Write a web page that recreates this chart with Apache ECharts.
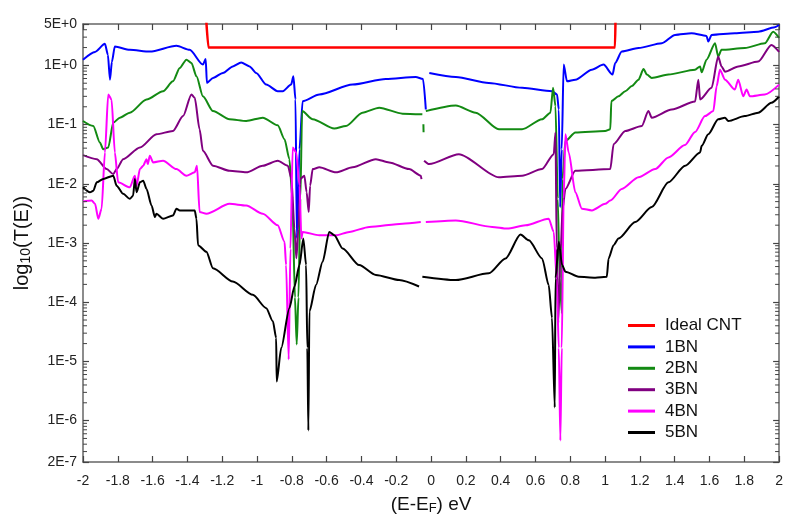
<!DOCTYPE html>
<html>
<head>
<meta charset="utf-8">
<script src="https://cdn.jsdelivr.net/npm/echarts@6/dist/echarts.min.js"></script>
<style>html,body{margin:0;padding:0;background:#fff}#chart{width:786px;height:520px}</style>
</head>
<body>
<div id="chart"></div>
<script>
// x tick labels (eV) and y tick labels
const xTicks = [-2,-1.8,-1.6,-1.4,-1.2,-1,-0.8,-0.6,-0.4,-0.2,0,0.2,0.4,0.6,0.8,1,1.2,1.4,1.6,1.8,2];
const yTickLabels = ['2E-7','1E-6','1E-5','1E-4','1E-3','1E-2','1E-1','1E+0','5E+0'];
const seriesNames = ['Ideal CNT','1BN','2BN','3BN','4BN','5BN'];

// [E - EF (eV), T(E)]
const idealCNT = [[-1.292,6],[-1.279,2],[1.057,2],[1.060,6]];

const bn1 = [[-2.0,1.25],[-1.931,1.69],[-1.874,2.31],[-1.857,1.51],[-1.845,0.574],[-1.834,1.15],[-1.817,2.08],[-1.731,1.83],[-1.616,1.71],[-1.463,2.14],[-1.387,1.83],[-1.311,1.03],[-1.295,1.28],[-1.288,0.506],[-1.253,0.614],[-1.196,0.745],[-1.139,0.961],[-1.091,1.12],[-1.043,0.961],[-1.005,0.745],[-0.947,0.474],[-0.881,0.366],[-0.852,0.366],[-0.804,0.474],[-0.791,0.653],[-0.779,0.265],[-0.771,1.2e-3],[-0.756,0.0385],[-0.738,0.248],[-0.642,0.322],[-0.451,0.474],[-0.260,0.590],[-0.088,0.638],[-0.046,0.590],[-0.030,0.18],[-0.020,null],[-0.010,0.745],[0.142,0.638],[0.332,0.506],[0.523,0.417],[0.695,0.366],[0.724,0.322],[0.734,0.18],[0.742,4e-3],[0.751,0.0385],[0.762,1.03],[0.781,0.538],[0.829,0.574],[0.924,0.846],[0.991,1.03],[1.043,0.70],[1.058,1.10],[1.096,1.71],[1.192,1.96],[1.326,2.37],[1.402,3.27],[1.497,3.49],[1.583,3.15],[1.593,2.52],[1.612,3.27],[1.746,3.49],[1.880,3.71],[1.975,4.40],[2.0,4.8]];

const bn2 = [[-2.0,0.115],[-1.941,0.0946],[-1.903,0.0498],[-1.884,0.0385],[-1.855,0.041],[-1.826,0.108],[-1.788,0.131],[-1.731,0.159],[-1.635,0.265],[-1.540,0.366],[-1.483,0.538],[-1.444,0.903],[-1.406,1.25],[-1.377,1.10],[-1.348,0.653],[-1.311,0.301],[-1.253,0.169],[-1.158,0.123],[-1.062,0.115],[-0.967,0.131],[-0.881,0.0972],[-0.842,0.0566],[-0.814,0.0261],[-0.797,5.6e-3],[-0.782,1.2e-4],[-0.772,1.93e-5],[-0.762,1.2e-4],[-0.751,5.6e-3],[-0.741,0.169],[-0.680,0.123],[-0.556,0.0855],[-0.489,0.0946],[-0.394,0.159],[-0.298,0.193],[-0.164,0.153],[-0.050,0.149],[-0.047,null],[-0.044,0.101],[-0.043,0.0741],[-0.036,null],[-0.030,0.169],[0.142,0.210],[0.256,0.159],[0.390,0.0832],[0.523,0.0832],[0.638,0.123],[0.686,0.159],[0.701,0.417],[0.715,0.205],[0.728,5.6e-3],[0.739,2.53e-4],[0.752,6.5e-5],[0.755,0.012],[0.772,0.053],[0.829,0.0733],[1.001,0.078],[1.030,0.0832],[1.036,0.25],[1.077,0.301],[1.116,0.366],[1.154,0.45],[1.192,0.574],[1.221,0.869],[1.240,0.70],[1.268,0.614],[1.364,0.70],[1.517,0.846],[1.546,0.961],[1.555,0.762],[1.583,1.25],[1.632,2.37],[1.650,1.41],[1.669,1.83],[1.803,1.96],[1.918,2.37],[1.966,3.71],[2.0,2.91]];

const bn3 = [[-2.0,0.0305],[-1.921,0.0261],[-1.864,0.0177],[-1.826,0.0146],[-1.807,0.0177],[-1.769,0.0261],[-1.673,0.041],[-1.578,0.0686],[-1.483,0.078],[-1.425,0.139],[-1.377,0.322],[-1.358,0.283],[-1.330,0.0832],[-1.311,0.036],[-1.253,0.0202],[-1.158,0.0166],[-1.062,0.0156],[-0.967,0.0202],[-0.881,0.0245],[-0.823,0.0202],[-0.802,0.0121],[-0.785,1.75e-3],[-0.774,5.5e-4],[-0.762,1.75e-3],[-0.751,0.0121],[-0.728,0.0137],[-0.715,7.2e-3],[-0.703,3.33e-3],[-0.695,9.3e-3],[-0.680,0.0177],[-0.642,0.019],[-0.546,0.0156],[-0.451,0.019],[-0.317,0.0261],[-0.241,0.023],[-0.126,0.0177],[-0.059,0.0137],[-0.055,0.012],[-0.050,null],[-0.040,0.0245],[-0.011,0.0215],[0.160,0.0317],[0.390,0.0129],[0.523,0.0137],[0.638,0.0177],[0.705,0.0317],[0.715,0.0733],[0.722,8.07e-4],[0.731,4.5e-5],[0.745,8e-4],[0.756,3.8e-3],[0.772,8.2e-3],[0.829,0.0166],[1.030,0.0177],[1.049,0.0467],[1.116,0.078],[1.211,0.0946],[1.249,0.169],[1.268,0.131],[1.383,0.18],[1.517,0.245],[1.536,0.574],[1.546,0.265],[1.612,0.417],[1.650,1.41],[1.669,0.961],[1.689,0.783],[1.765,0.961],[1.880,1.16],[1.956,2.22],[2.0,1.69]];

const bn4 = [[-2.0,5.02e-3],[-1.950,5.2e-3],[-1.931,4.59e-3],[-1.912,2.57e-3],[-1.893,3.79e-3],[-1.874,0.0339],[-1.855,0.322],[-1.836,0.265],[-1.817,0.0339],[-1.798,0.0106],[-1.731,8.75e-3],[-1.702,0.0137],[-1.692,9.3e-3],[-1.673,0.0177],[-1.654,0.0202],[-1.635,0.0261],[-1.628,0.0215],[-1.616,0.0297],[-1.597,0.023],[-1.540,0.0245],[-1.463,0.0177],[-1.406,0.0137],[-1.358,0.0156],[-1.345,0.0202],[-1.330,3.33e-3],[-1.291,3.12e-3],[-1.158,4.59e-3],[-1.062,4.3e-3],[-0.967,3.12e-3],[-0.881,1.99e-3],[-0.842,1.05e-3],[-0.833,4.24e-4],[-0.818,1.08e-5],[-0.808,8e-4],[-0.795,0.041],[-0.775,0.0339],[-0.756,9.3e-3],[-0.745,1.19e-3],[-0.738,1.54e-3],[-0.642,1.35e-3],[-0.546,1.35e-3],[-0.470,1.54e-3],[-0.355,1.87e-3],[-0.164,2.12e-3],[-0.059,2.26e-3],[-0.045,null],[-0.030,2.26e-3],[0.142,2.41e-3],[0.351,1.87e-3],[0.437,1.75e-3],[0.543,1.99e-3],[0.676,2.57e-3],[0.705,1.54e-3],[0.722,2.53e-4],[0.734,1.69e-5],[0.743,4.6e-7],[0.751,1.69e-5],[0.762,5.6e-3],[0.772,0.0686],[0.791,0.0339],[0.829,7.2e-3],[0.867,3.79e-3],[0.924,3.55e-3],[1.001,4.59e-3],[1.030,5.2e-3],[1.096,8.2e-3],[1.192,0.0129],[1.288,0.0177],[1.364,0.0279],[1.459,0.045],[1.517,0.075],[1.574,0.139],[1.622,0.169],[1.641,0.443],[1.660,0.846],[1.689,0.574],[1.746,0.391],[1.765,0.574],[1.794,0.301],[1.813,0.391],[1.832,0.301],[1.918,0.322],[2.0,0.473]];

const bn5 = [[-2.0,8.75e-3],[-1.960,7.2e-3],[-1.941,7.6e-3],[-1.921,0.0106],[-1.884,0.0121],[-1.826,0.0137],[-1.807,9.3e-3],[-1.769,6.76e-3],[-1.731,5.57e-3],[-1.712,6.3e-3],[-1.702,0.0121],[-1.692,7.2e-3],[-1.673,0.0106],[-1.654,0.0113],[-1.635,8.2e-3],[-1.606,4.3e-3],[-1.587,2.75e-3],[-1.578,3.12e-3],[-1.540,2.57e-3],[-1.483,2.92e-3],[-1.463,3.79e-3],[-1.444,3.55e-3],[-1.358,3.55e-3],[-1.348,2.57e-3],[-1.339,9.2e-4],[-1.291,7.1e-4],[-1.253,3.73e-4],[-1.139,2.23e-4],[-1.024,1.33e-4],[-0.947,7.94e-5],[-0.909,4.75e-5],[-0.890,2.49e-5],[-0.887,4.56e-6],[-0.861,1.69e-5],[-0.814,7.94e-5],[-0.785,1.84e-4],[-0.756,4.24e-4],[-0.734,1.19e-3],[-0.718,4.24e-4],[-0.711,1.69e-5],[-0.705,6.8e-7],[-0.699,7.0e-5],[-0.661,1.95e-4],[-0.623,4.83e-4],[-0.585,1.54e-3],[-0.556,1.35e-3],[-0.508,8.07e-4],[-0.413,4.24e-4],[-0.317,2.88e-4],[-0.183,2.37e-4],[-0.069,1.84e-4],[-0.060,null],[-0.050,2.7e-4],[0.142,2.37e-4],[0.332,3.07e-4],[0.428,5.48e-4],[0.514,1.39e-3],[0.562,1.11e-3],[0.638,5.48e-4],[0.676,1.95e-4],[0.695,5.4e-5],[0.711,1.67e-6],[0.715,2.53e-4],[0.734,1.05e-3],[0.753,4.24e-4],[0.772,3.28e-4],[0.848,2.7e-4],[0.944,2.6e-4],[1.010,2.7e-4],[1.020,5.48e-4],[1.049,9.2e-4],[1.077,1.19e-3],[1.173,2.26e-3],[1.268,4.04e-3],[1.364,0.0106],[1.460,0.0202],[1.546,0.0339],[1.555,0.0437],[1.593,0.0686],[1.650,0.123],[1.689,0.131],[1.708,0.115],[1.803,0.139],[1.880,0.159],[1.956,0.233],[2.0,0.298]];

// minor tick mantissas on the log axis
const minorMantissas = [2,3,4,5,6,7,8,9];
const decades = [-7,-6,-5,-4,-3,-2,-1,0];

const seriesData = [idealCNT, bn1, bn2, bn3, bn4, bn5];
const seriesColors = ['#ff0000','#0000ff','#138a13','#800080','#ff00ff','#000000'];
const Y_MIN = 2e-7, Y_MAX = 5;

function toData(arr){ return arr.map(p => [p[0], p[1] === null ? '-' : p[1]]); }
function fmtY(v){
  const lg = Math.round(Math.log10(v)*1e6)/1e6;
  const e = Math.floor(lg);
  const m = Math.round(v/Math.pow(10,e));
  return m + 'E' + (e >= 0 ? '+' : '') + e;
}
const minorVals = [];
decades.forEach(d => minorMantissas.forEach(m => {
  const v = m * Math.pow(10, d);
  if (v > Y_MIN * 1.001 && v < Y_MAX * 0.999) minorVals.push(v);
}));

const FONT = '"Liberation Sans", Arial, sans-serif';
const axisColor = '#666';

const chart = echarts.init(document.getElementById('chart'), null, {renderer:'canvas'});
const xBase = {
  type:'value', min:-2, max:2, interval:0.2,
  axisLine:{show:true, onZero:false, lineStyle:{color:axisColor, width:1.5}},
  axisTick:{show:true, inside:true, length:6, lineStyle:{color:'#444', width:1.2}},
  splitLine:{show:false}
};
const yBase = {
  type:'log', logBase:10, min:Y_MIN, max:Y_MAX,
  axisLine:{show:true, onZero:false, lineStyle:{color:axisColor, width:1.5}},
  axisTick:{show:true, inside:true, length:6, lineStyle:{color:'#444', width:1.2}},
  splitLine:{show:false}
};
const lineSeries = seriesNames.map((n,i) => ({
  name:n, type:'line', data:toData(seriesData[i]),
  showSymbol:false, symbol:'none', connectNulls:false, clip:true,
  smooth:0.25, smoothMonotone:'x',
  lineStyle:{width: i===0 ? 2.5 : 2, color:seriesColors[i]},
  itemStyle:{color:seriesColors[i]},
  xAxisIndex:0, yAxisIndex:0
}));
const minorTickSeries = {
  type:'custom', silent:true, z:5, clip:false, xAxisIndex:0, yAxisIndex:0,
  data: minorVals.map(v => [-2, v]),
  encode:{x:0, y:1},
  renderItem:(params, api) => {
    const v = api.value(1);
    const pl = api.coord([-2, v]);
    const pr = api.coord([2, v]);
    return {type:'group', children:[
      {type:'line', shape:{x1:pl[0], y1:pl[1], x2:pl[0]+4, y2:pl[1]}, style:{stroke:'#444', lineWidth:1}},
      {type:'line', shape:{x1:pr[0]-4, y1:pr[1], x2:pr[0], y2:pr[1]}, style:{stroke:'#444', lineWidth:1}}
    ]};
  }
};
chart.setOption({
  animation:false,
  backgroundColor:'#fff',
  grid:{left:83, right:5, top:24, bottom:55, containLabel:false},
  legend:{
    orient:'vertical', left:623, top:312, itemWidth:27, itemHeight:3, itemGap:4.4,
    icon:'rect',
    data:seriesNames,
    textStyle:{fontFamily:FONT, fontSize:17, lineHeight:17, color:'#111', padding:[0,0,0,5]}
  },
  xAxis:[
    Object.assign({}, xBase, {
      position:'bottom',
      axisLabel:{margin:12, fontFamily:FONT, fontSize:14, color:'#222',
        formatter:v => String(Math.round(v*10)/10)},
      name:'{a|(E-E}{s|F}{a|) eV}', nameLocation:'middle', nameGap:32,
      nameTextStyle:{rich:{a:{fontFamily:FONT, fontSize:19, color:'#111'}, s:{fontFamily:FONT, fontSize:13, color:'#111', padding:[8,0,0,0]}}}
    }),
    Object.assign({}, xBase, {position:'top', axisLabel:{show:false}})
  ],
  yAxis:[
    Object.assign({}, yBase, {
      position:'left',
      axisLabel:{margin:6, fontFamily:FONT, fontSize:14, color:'#222', formatter:fmtY},
      name:'{a|log}{s|10}{a|(T(E))}', nameLocation:'middle', nameGap:50, nameRotate:90,
      nameTextStyle:{rich:{a:{fontFamily:FONT, fontSize:20, color:'#111'}, s:{fontFamily:FONT, fontSize:14, color:'#111', padding:[8,0,0,0]}}}
    }),
    Object.assign({}, yBase, {position:'right', axisLabel:{show:false}})
  ],
  series: lineSeries.concat([minorTickSeries])
});
</script>
</body>
</html>
